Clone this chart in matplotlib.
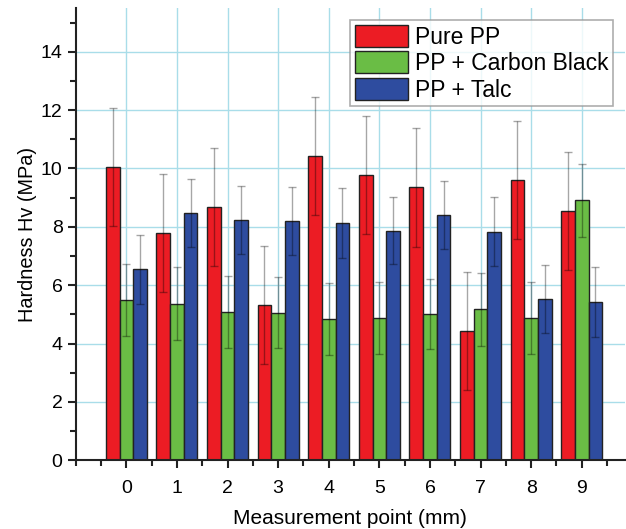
import numpy as np
import matplotlib
matplotlib.use("Agg")
import matplotlib.pyplot as plt
from matplotlib.ticker import MultipleLocator

plt.rcParams['font.family'] = ['Liberation Sans', 'DejaVu Sans']

points = [0, 1, 2, 3, 4, 5, 6, 7, 8, 9]
series = ["Pure PP", "PP + Carbon Black", "PP + Talc"]

pure_pp = [10.04, 7.79, 8.67, 5.32, 10.43, 9.78, 9.35, 4.43, 9.60, 8.55]
pure_pp_err = [2.03, 2.02, 2.03, 2.03, 2.02, 2.02, 2.03, 2.03, 2.01, 2.02]

carbon = [5.49, 5.37, 5.09, 5.06, 4.84, 4.88, 5.00, 5.18, 4.88, 8.91]
carbon_err = [1.24, 1.24, 1.24, 1.23, 1.22, 1.24, 1.20, 1.25, 1.24, 1.25]

talc = [6.54, 8.47, 8.24, 8.20, 8.12, 7.86, 8.40, 7.83, 5.52, 5.41]
talc_err = [1.17, 1.16, 1.17, 1.17, 1.20, 1.15, 1.17, 1.18, 1.17, 1.20]

colors = ["#EC1C24", "#6ABD45", "#2E4C9F"]

fig = plt.figure(figsize=(6.26, 5.29), dpi=100)
ax = fig.add_axes([0.121, 0.130, 0.877, 0.855])

x = np.arange(len(points))
w = 0.27
for i, (vals, errs) in enumerate([(pure_pp, pure_pp_err), (carbon, carbon_err), (talc, talc_err)]):
    ax.bar(x + (i - 1) * w, vals, w, color=colors[i], edgecolor="#222222",
           linewidth=1.0, label=series[i], zorder=2)
    ax.errorbar(x + (i - 1) * w, vals, yerr=errs, fmt="none", ecolor="black",
                alpha=0.35, elinewidth=1.0, capsize=3, capthick=1.0, zorder=3)

ax.set_xlim(-1, 9.85)
ax.set_ylim(0, 15.5)
ax.set_xticks(x)
ax.set_xticklabels([str(p) for p in points])
ax.xaxis.set_minor_locator(MultipleLocator(0.5))
ax.yaxis.set_major_locator(MultipleLocator(2))
ax.yaxis.set_minor_locator(MultipleLocator(1))

ax.grid(True, which="major", color="#A9DDE9", linewidth=1.0, zorder=0)
ax.set_axisbelow(True)

for s in ["top", "right"]:
    ax.spines[s].set_visible(False)
ax.spines["left"].set_linewidth(1.5)
ax.spines["bottom"].set_linewidth(1.5)
ax.spines["left"].set_color("#222222")
ax.spines["bottom"].set_color("#222222")

ax.tick_params(axis="both", which="major", labelsize=14, width=1.5, length=6, direction="out", color="#222222")
ax.tick_params(axis="both", which="minor", width=1.5, length=4, direction="out", color="#222222")
ax.tick_params(axis="x", which="major", pad=8)

ax.set_xlabel("Measurement point (mm)", fontsize=15, labelpad=9)
ax.set_ylabel("Hardness Hv (MPa)", fontsize=14.3, labelpad=3)

leg = ax.legend(loc="upper right", bbox_to_anchor=(0.978, 0.973), fontsize=16.5,
                frameon=True, fancybox=False, handlelength=2.3, handleheight=1.1,
                labelspacing=0.12, handletextpad=0.3, borderpad=0.2, borderaxespad=0)
leg.get_frame().set_edgecolor("#999999")
leg.get_frame().set_linewidth(1.2)

fig.savefig("out.png", dpi=100)
